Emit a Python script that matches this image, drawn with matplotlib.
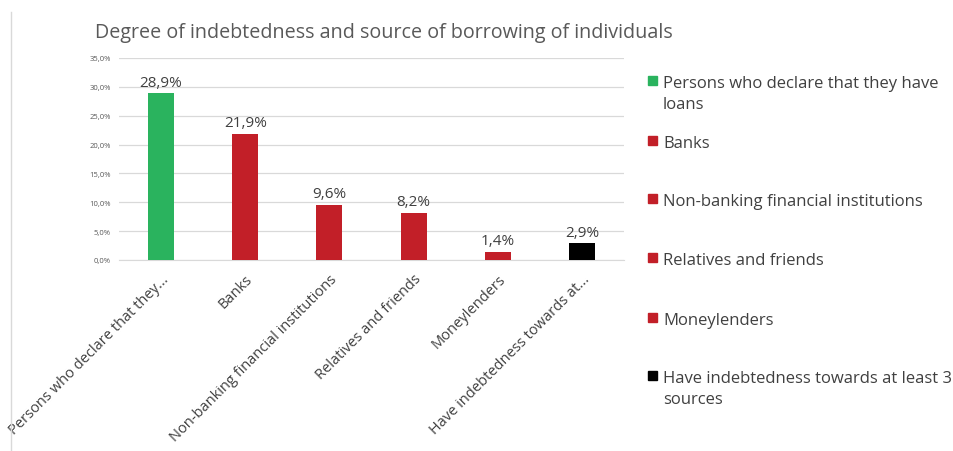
import matplotlib
matplotlib.use("Agg")
import matplotlib.pyplot as plt
from matplotlib.patches import Rectangle
from matplotlib.lines import Line2D

title = "Degree of indebtedness and source of borrowing of individuals"
categories = [
    "Persons who declare that they...",
    "Banks",
    "Non-banking financial institutions",
    "Relatives and friends",
    "Moneylenders",
    "Have indebtedness towards at...",
]
legend_labels = [
    "Persons who declare that they have\nloans",
    "Banks",
    "Non-banking financial institutions",
    "Relatives and friends",
    "Moneylenders",
    "Have indebtedness towards at least 3\nsources",
]
values = [28.9, 21.9, 9.6, 8.2, 1.4, 2.9]
colors = ["#2AB35E", "#C21F28", "#C21F28", "#C21F28", "#C21F28", "#000000"]
yticks = [0, 5, 10, 15, 20, 25, 30, 35]

plt.rcParams["font.family"] = ["Open Sans", "DejaVu Sans"]
W, H = 954, 452
fig = plt.figure(figsize=(W / 100, H / 100), dpi=100)
ax = fig.add_axes([119 / W, 1 - 261 / H, (624 - 119) / W, (261 - 59) / H])

x = list(range(len(values)))
bars = ax.bar(x, values, width=0.31, color=colors, zorder=3)
for xi, v in zip(x, values):
    ax.text(xi, v + 0.6, f"{v:.1f}%".replace(".", ","), ha="center", va="bottom",
            fontsize=11, color="#404040")

ax.set_xlim(-0.5, len(values) - 0.5)
ax.set_ylim(0, 35)
ax.set_yticks(yticks)
ax.set_yticklabels([f"{t:.1f}%".replace(".", ",") for t in yticks], fontsize=5.5, color="#595959")
ax.yaxis.grid(True, color="#D9D9D9", linewidth=0.9, zorder=0)
ax.tick_params(axis="y", length=0, pad=6)
ax.set_xticks(x)
ax.set_xticklabels(categories, rotation=45, ha="right", rotation_mode="anchor",
                   fontsize=10.5, color="#404040")
ax.tick_params(axis="x", length=0, pad=8)
for s in ["top", "right", "left"]:
    ax.spines[s].set_visible(False)
ax.spines["bottom"].set_color("#D9D9D9")

fig.text(95 / W, 1 - 33 / H, title, fontsize=14.2, color="#595959", va="center", ha="left")

# chart frame edge on the left
fig.add_artist(Line2D([11 / W, 11 / W], [0, 1 - 13 / H], color="#D9D9D9", linewidth=1))

# legend
leg_y = [81, 141, 199, 258, 318, 376]
for lbl, col, yy in zip(legend_labels, colors, leg_y):
    fig.add_artist(Rectangle((648 / W, 1 - (yy + 4.5) / H), 9 / W, 9 / H, color=col,
                             transform=fig.transFigure))
    fig.text(663 / W, 1 - (yy - 5) / H, lbl, fontsize=12, color="#404040",
             va="top", ha="left", linespacing=1.4)

fig.savefig("out.png", dpi=100)
